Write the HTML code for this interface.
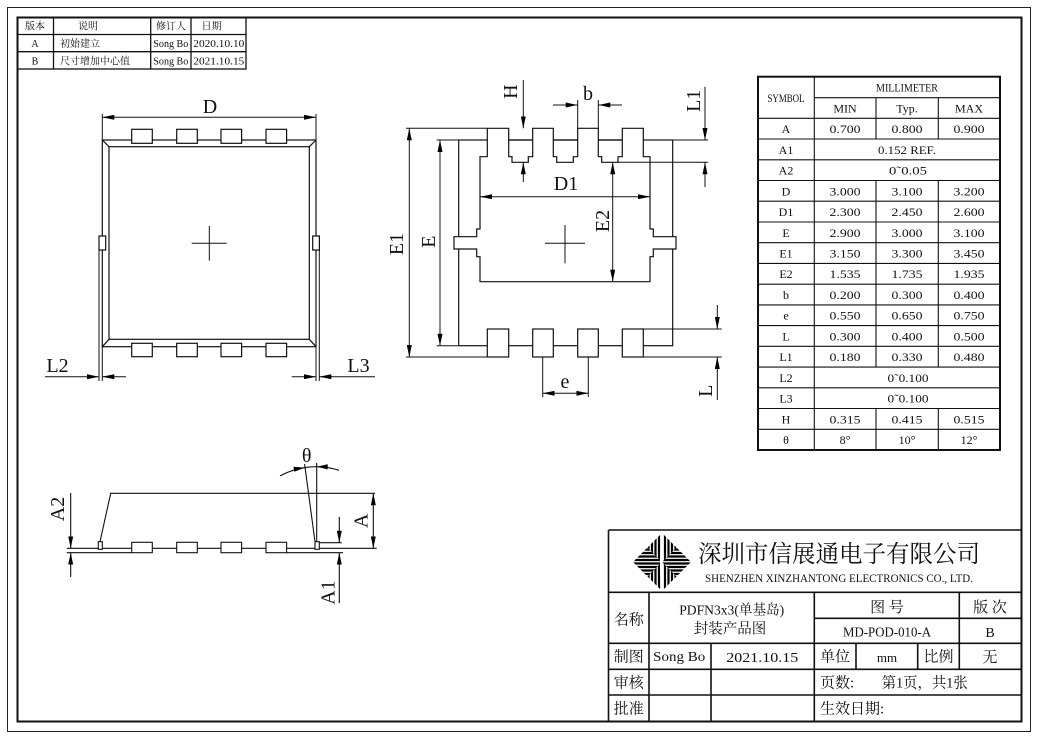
<!DOCTYPE html>
<html><head><meta charset="utf-8"><style>
html,body{margin:0;padding:0;background:#fff;}
svg{display:block;}
text{font-family:"Liberation Serif","Noto Serif CJK SC",serif;fill:#111;}
</style></head><body>
<svg width="1039" height="738" viewBox="0 0 1039 738" xmlns="http://www.w3.org/2000/svg">
<defs>
<marker id="a" viewBox="0 0 12 5" refX="12" refY="2.5" markerWidth="12" markerHeight="5" markerUnits="userSpaceOnUse" orient="auto-start-reverse"><path d="M0,0L12,2.5L0,5z" fill="#000"/></marker>
<clipPath id="lr"><path d="M633,562 L647.5,547.5 L662,562 L647.5,576.5 Z M691,562 L676.5,547.5 L662,562 L676.5,576.5 Z"/></clipPath>
<clipPath id="tb"><path d="M662,533 L676.5,547.5 L662,562 L647.5,547.5 Z M662,591 L676.5,576.5 L662,562 L647.5,576.5 Z"/></clipPath>
</defs>

<!-- page frames -->
<rect x="7.5" y="7.5" width="1023" height="724" fill="none" stroke="#222" stroke-width="1"/>
<rect x="17.5" y="17.5" width="1004" height="704" fill="none" stroke="#111" stroke-width="2"/>

<!-- revision table -->
<g stroke="#111" stroke-width="1.3" fill="none">
<rect x="17.5" y="17.5" width="228.5" height="51.5"/>
<line x1="17.5" y1="34.5" x2="246" y2="34.5"/>
<line x1="17.5" y1="51.7" x2="246" y2="51.7"/>
<line x1="53.5" y1="17.5" x2="53.5" y2="69"/>
<line x1="150.7" y1="17.5" x2="150.7" y2="69"/>
<line x1="191" y1="17.5" x2="191" y2="69"/>
</g>
<g font-size="10">
<text x="35" y="29.5" text-anchor="middle">版本</text>
<text x="88" y="29.5" text-anchor="middle">说明</text>
<text x="171" y="29.5" text-anchor="middle">修订人</text>
<text x="211.5" y="29.5" text-anchor="middle">日期</text>
<text x="35" y="47" text-anchor="middle">A</text>
<text x="60" y="47">初始建立</text>
<text x="153.3" y="47" textLength="35" lengthAdjust="spacingAndGlyphs">Song Bo</text>
<text x="193.3" y="47" textLength="51" lengthAdjust="spacingAndGlyphs">2020.10.10</text>
<text x="35" y="64.5" text-anchor="middle">B</text>
<text x="60" y="64.5">尺寸增加中心值</text>
<text x="153.3" y="64.5" textLength="35" lengthAdjust="spacingAndGlyphs">Song Bo</text>
<text x="193.3" y="64.5" textLength="51" lengthAdjust="spacingAndGlyphs">2021.10.15</text>
</g>

<!-- LEFT TOP VIEW -->
<g stroke="#111" stroke-width="1.2" fill="none">
<rect x="102.3" y="140" width="213.7" height="206.7"/>
<rect x="109" y="146.7" width="200.3" height="192.6"/>
<line x1="102.3" y1="140" x2="109" y2="146.7"/>
<line x1="316" y1="140" x2="309.3" y2="146.7"/>
<line x1="102.3" y1="346.7" x2="109" y2="339.3"/>
<line x1="316" y1="346.7" x2="309.3" y2="339.3"/>
</g>
<g stroke="#111" stroke-width="1.2" fill="#fff">
<rect x="131.7" y="129.3" width="20.6" height="14"/>
<rect x="176.7" y="129.3" width="20.6" height="14"/>
<rect x="221" y="129.3" width="20.6" height="14"/>
<rect x="266" y="129.3" width="20.6" height="14"/>
<rect x="131.7" y="343.3" width="20.6" height="13.4"/>
<rect x="176.7" y="343.3" width="20.6" height="13.4"/>
<rect x="221" y="343.3" width="20.6" height="13.4"/>
<rect x="266" y="343.3" width="20.6" height="13.4"/>
<rect x="99" y="236" width="6.7" height="14"/>
<rect x="312.7" y="236" width="6.7" height="14"/>
</g>
<g stroke="#111" stroke-width="1" fill="none">
<line x1="102.3" y1="114" x2="102.3" y2="140"/>
<line x1="316" y1="114" x2="316" y2="140"/>
<line x1="102.3" y1="117.3" x2="316" y2="117.3" marker-start="url(#a)" marker-end="url(#a)"/>
<line x1="99" y1="250" x2="99" y2="381"/>
<line x1="102.3" y1="346.7" x2="102.3" y2="381"/>
<line x1="316" y1="346.7" x2="316" y2="381"/>
<line x1="319.3" y1="250" x2="319.3" y2="381"/>
<line x1="45" y1="376.7" x2="99" y2="376.7" marker-end="url(#a)"/>
<line x1="126" y1="376.7" x2="102.3" y2="376.7" marker-end="url(#a)"/>
<line x1="291.7" y1="376.7" x2="316" y2="376.7" marker-end="url(#a)"/>
<line x1="375" y1="376.7" x2="319.3" y2="376.7" marker-end="url(#a)"/>
<line x1="191.7" y1="243.3" x2="226.7" y2="243.3"/>
<line x1="209.3" y1="226" x2="209.3" y2="260.7"/>
</g>
<g font-size="20">
<text x="210" y="113" text-anchor="middle">D</text>
<text x="57.5" y="372" text-anchor="middle">L2</text>
<text x="358.5" y="372" text-anchor="middle">L3</text>
</g>

<!-- MIDDLE BOTTOM VIEW -->
<g stroke="#111" stroke-width="1.2">
<rect x="458.7" y="140" width="214" height="205.7" fill="none"/>
<polygon fill="#fff" points="480,281.7 480,256.7 476.7,256.7 476.7,249 454,249 454,236.7 476.7,236.7 476.7,229 480,229 480,156.7 487.3,156.7 487.3,128.3 508.7,128.3 508.7,156.7 512,156.7 512,162.3 528.3,162.3 528.3,156.7 532.7,156.7 532.7,128.3 553.3,128.3 553.3,156.7 556.7,156.7 556.7,162.3 573.3,162.3 573.3,156.7 577.7,156.7 577.7,128.3 598.3,128.3 598.3,156.7 601.7,156.7 601.7,162.3 618,162.3 618,156.7 622.3,156.7 622.3,128.3 643.3,128.3 643.3,156.7 650,156.7 650,229 653.3,229 653.3,236.7 676,236.7 676,249 653.3,249 653.3,256.7 650,256.7 650,281.7"/>
<line x1="508.7" y1="140" x2="532.7" y2="140"/>
<line x1="553.3" y1="140" x2="577.7" y2="140"/>
<line x1="598.3" y1="140" x2="622.3" y2="140"/>
<rect x="487.3" y="329" width="21.4" height="28" fill="#fff"/>
<rect x="532.7" y="329" width="20.6" height="28" fill="#fff"/>
<rect x="577.7" y="329" width="20.6" height="28" fill="#fff"/>
<rect x="622.3" y="329" width="21" height="28" fill="#fff"/>
</g>
<g stroke="#111" stroke-width="1" fill="none">
<line x1="406" y1="128.3" x2="487.3" y2="128.3"/>
<line x1="406" y1="357" x2="487.3" y2="357"/>
<line x1="409.3" y1="128.3" x2="409.3" y2="357" marker-start="url(#a)" marker-end="url(#a)"/>
<line x1="436.7" y1="140" x2="458.7" y2="140"/>
<line x1="436.7" y1="345.7" x2="458.7" y2="345.7"/>
<line x1="440" y1="140" x2="440" y2="345.7" marker-start="url(#a)" marker-end="url(#a)"/>
<line x1="523.3" y1="80" x2="523.3" y2="128.3" marker-end="url(#a)"/>
<line x1="523.3" y1="182" x2="523.3" y2="162.3" marker-end="url(#a)"/>
<line x1="577.7" y1="100" x2="577.7" y2="128.3"/>
<line x1="598.3" y1="100" x2="598.3" y2="128.3"/>
<line x1="553" y1="105" x2="577.7" y2="105" marker-end="url(#a)"/>
<line x1="622" y1="105" x2="598.3" y2="105" marker-end="url(#a)"/>
<line x1="672.7" y1="140" x2="708" y2="140"/>
<line x1="618" y1="162.3" x2="708" y2="162.3"/>
<line x1="705" y1="86.7" x2="705" y2="140" marker-end="url(#a)"/>
<line x1="705" y1="187" x2="705" y2="162.3" marker-end="url(#a)"/>
<line x1="612.7" y1="162.3" x2="612.7" y2="281.7" marker-start="url(#a)" marker-end="url(#a)"/>
<line x1="480" y1="196.7" x2="650" y2="196.7" marker-start="url(#a)" marker-end="url(#a)"/>
<line x1="545" y1="243.3" x2="585" y2="243.3"/>
<line x1="565" y1="225" x2="565" y2="263.3"/>
<line x1="643.3" y1="329" x2="721.7" y2="329"/>
<line x1="643.3" y1="357" x2="721.7" y2="357"/>
<line x1="717.3" y1="305" x2="717.3" y2="329" marker-end="url(#a)"/>
<line x1="717.3" y1="400" x2="717.3" y2="357" marker-end="url(#a)"/>
<line x1="542.7" y1="357" x2="542.7" y2="397"/>
<line x1="588.3" y1="357" x2="588.3" y2="397"/>
<line x1="542.7" y1="393.3" x2="588.3" y2="393.3" marker-start="url(#a)" marker-end="url(#a)"/>
</g>
<g font-size="20">
<text transform="translate(403,244) rotate(-90)" text-anchor="middle">E1</text>
<text transform="translate(435,241.7) rotate(-90)" text-anchor="middle">E</text>
<text transform="translate(609,221) rotate(-90)" text-anchor="middle">E2</text>
<text x="566" y="190" text-anchor="middle">D1</text>
<text transform="translate(517,91.7) rotate(-90)" text-anchor="middle">H</text>
<text x="588" y="100" text-anchor="middle">b</text>
<text transform="translate(700,100.8) rotate(-90)" text-anchor="middle">L1</text>
<text transform="translate(712,390.8) rotate(-90)" text-anchor="middle">L</text>
<text x="565" y="388" text-anchor="middle">e</text>
</g>

<!-- SIDE VIEW -->
<g stroke="#111" stroke-width="1.1" fill="none">
<polyline points="100,541.7 110.7,493.3 375,493.3"/>
<line x1="304.6" y1="464" x2="315" y2="541.7"/>
<line x1="316.7" y1="463" x2="316.7" y2="541.7"/>
<path d="M280,475.9 A75,75 0 0 1 339,470.3"/>
<line x1="66.7" y1="548.3" x2="98.3" y2="548.3"/>
<line x1="102.3" y1="548.3" x2="315" y2="548.3"/>
<line x1="319.3" y1="548.3" x2="376.7" y2="548.3"/>
<line x1="66.7" y1="552.7" x2="131.7" y2="552.7"/>
<line x1="286.7" y1="552.7" x2="343" y2="552.7"/>
<line x1="319.3" y1="542.7" x2="341.7" y2="542.7"/>
<line x1="373.3" y1="493.3" x2="373.3" y2="548.3" marker-start="url(#a)" marker-end="url(#a)"/>
<line x1="339.3" y1="517" x2="339.3" y2="542.7" marker-end="url(#a)"/>
<line x1="339.3" y1="603" x2="339.3" y2="552.7" marker-end="url(#a)"/>
<line x1="70.7" y1="493" x2="70.7" y2="548.3" marker-end="url(#a)"/>
<line x1="70.7" y1="577" x2="70.7" y2="552.7" marker-end="url(#a)"/>
</g>
<g stroke="#111" stroke-width="1.1" fill="#fff">
<rect x="98.3" y="541.7" width="4" height="7.6"/>
<rect x="315" y="541.7" width="4.3" height="7.6"/>
<rect x="131.7" y="542.3" width="20.6" height="10.4"/>
<rect x="176.7" y="542.3" width="20.6" height="10.4"/>
<rect x="221" y="542.3" width="20.6" height="10.4"/>
<rect x="266" y="542.3" width="20.6" height="10.4"/>
</g>
<polygon points="304.8,467.6 294.3,471.7 293.5,466.7" fill="#000"/>
<polygon points="316.7,466.7 327.7,469.4 327.7,464.2" fill="#000"/>
<g font-size="20">
<text x="306.7" y="462" text-anchor="middle">θ</text>
<text transform="translate(64,509) rotate(-90)" text-anchor="middle">A2</text>
<text transform="translate(367.5,520.8) rotate(-90)" text-anchor="middle">A</text>
<text transform="translate(334.5,592.5) rotate(-90)" text-anchor="middle">A1</text>
</g>

<!-- DIMENSION TABLE -->
<g stroke="#111" fill="none">
<rect x="758" y="76.7" width="242" height="373.3" stroke-width="2"/>
<g stroke-width="1.1">
<line x1="814.3" y1="76.7" x2="814.3" y2="450"/>
<line x1="814.3" y1="97.7" x2="1000" y2="97.7"/>
<line x1="758" y1="118.3" x2="1000" y2="118.3"/>
<line x1="758" y1="139" x2="1000" y2="139"/>
<line x1="758" y1="159.8" x2="1000" y2="159.8"/>
<line x1="758" y1="180.5" x2="1000" y2="180.5"/>
<line x1="758" y1="201.2" x2="1000" y2="201.2"/>
<line x1="758" y1="222" x2="1000" y2="222"/>
<line x1="758" y1="242.7" x2="1000" y2="242.7"/>
<line x1="758" y1="263.4" x2="1000" y2="263.4"/>
<line x1="758" y1="284.2" x2="1000" y2="284.2"/>
<line x1="758" y1="304.9" x2="1000" y2="304.9"/>
<line x1="758" y1="325.6" x2="1000" y2="325.6"/>
<line x1="758" y1="346.3" x2="1000" y2="346.3"/>
<line x1="758" y1="367.1" x2="1000" y2="367.1"/>
<line x1="758" y1="387.8" x2="1000" y2="387.8"/>
<line x1="758" y1="408.5" x2="1000" y2="408.5"/>
<line x1="758" y1="429.3" x2="1000" y2="429.3"/>
<line x1="876" y1="97.7" x2="876" y2="139"/>
<line x1="938.3" y1="97.7" x2="938.3" y2="139"/>
<line x1="876" y1="180.5" x2="876" y2="367.1"/>
<line x1="938.3" y1="180.5" x2="938.3" y2="367.1"/>
<line x1="876" y1="408.5" x2="876" y2="450"/>
<line x1="938.3" y1="408.5" x2="938.3" y2="450"/>
</g>
</g>
<g font-size="12" text-anchor="middle">
<text x="786" y="102" textLength="37" lengthAdjust="spacingAndGlyphs">SYMBOL</text>
<text x="907" y="91.5" textLength="62" lengthAdjust="spacingAndGlyphs">MILLIMETER</text>
<text x="845" y="112.5">MIN</text>
<text x="907" y="112.5">Typ.</text>
<text x="969" y="112.5">MAX</text>
</g>
<g font-size="12" text-anchor="middle">
<text x="786" y="133">A</text><text x="845" y="133" textLength="31" lengthAdjust="spacingAndGlyphs">0.700</text><text x="907" y="133" textLength="31" lengthAdjust="spacingAndGlyphs">0.800</text><text x="969" y="133" textLength="31" lengthAdjust="spacingAndGlyphs">0.900</text>
<text x="786" y="154">A1</text><text x="907" y="154" textLength="58" lengthAdjust="spacingAndGlyphs">0.152 REF.</text>
<text x="786" y="174.5">A2</text><text x="908" y="174.5" textLength="38" lengthAdjust="spacingAndGlyphs">0˜0.05</text>
<text x="786" y="195.3">D</text><text x="845" y="195.3" textLength="31" lengthAdjust="spacingAndGlyphs">3.000</text><text x="907" y="195.3" textLength="31" lengthAdjust="spacingAndGlyphs">3.100</text><text x="969" y="195.3" textLength="31" lengthAdjust="spacingAndGlyphs">3.200</text>
<text x="786" y="216">D1</text><text x="845" y="216" textLength="31" lengthAdjust="spacingAndGlyphs">2.300</text><text x="907" y="216" textLength="31" lengthAdjust="spacingAndGlyphs">2.450</text><text x="969" y="216" textLength="31" lengthAdjust="spacingAndGlyphs">2.600</text>
<text x="786" y="236.8">E</text><text x="845" y="236.8" textLength="31" lengthAdjust="spacingAndGlyphs">2.900</text><text x="907" y="236.8" textLength="31" lengthAdjust="spacingAndGlyphs">3.000</text><text x="969" y="236.8" textLength="31" lengthAdjust="spacingAndGlyphs">3.100</text>
<text x="786" y="257.5">E1</text><text x="845" y="257.5" textLength="31" lengthAdjust="spacingAndGlyphs">3.150</text><text x="907" y="257.5" textLength="31" lengthAdjust="spacingAndGlyphs">3.300</text><text x="969" y="257.5" textLength="31" lengthAdjust="spacingAndGlyphs">3.450</text>
<text x="786" y="278.2">E2</text><text x="845" y="278.2" textLength="31" lengthAdjust="spacingAndGlyphs">1.535</text><text x="907" y="278.2" textLength="31" lengthAdjust="spacingAndGlyphs">1.735</text><text x="969" y="278.2" textLength="31" lengthAdjust="spacingAndGlyphs">1.935</text>
<text x="786" y="299">b</text><text x="845" y="299" textLength="31" lengthAdjust="spacingAndGlyphs">0.200</text><text x="907" y="299" textLength="31" lengthAdjust="spacingAndGlyphs">0.300</text><text x="969" y="299" textLength="31" lengthAdjust="spacingAndGlyphs">0.400</text>
<text x="786" y="319.7">e</text><text x="845" y="319.7" textLength="31" lengthAdjust="spacingAndGlyphs">0.550</text><text x="907" y="319.7" textLength="31" lengthAdjust="spacingAndGlyphs">0.650</text><text x="969" y="319.7" textLength="31" lengthAdjust="spacingAndGlyphs">0.750</text>
<text x="786" y="340.4">L</text><text x="845" y="340.4" textLength="31" lengthAdjust="spacingAndGlyphs">0.300</text><text x="907" y="340.4" textLength="31" lengthAdjust="spacingAndGlyphs">0.400</text><text x="969" y="340.4" textLength="31" lengthAdjust="spacingAndGlyphs">0.500</text>
<text x="786" y="361.1">L1</text><text x="845" y="361.1" textLength="31" lengthAdjust="spacingAndGlyphs">0.180</text><text x="907" y="361.1" textLength="31" lengthAdjust="spacingAndGlyphs">0.330</text><text x="969" y="361.1" textLength="31" lengthAdjust="spacingAndGlyphs">0.480</text>
<text x="786" y="381.9">L2</text><text x="908" y="381.9" textLength="41" lengthAdjust="spacingAndGlyphs">0˜0.100</text>
<text x="786" y="402.6">L3</text><text x="908" y="402.6" textLength="41" lengthAdjust="spacingAndGlyphs">0˜0.100</text>
<text x="786" y="423.3">H</text><text x="845" y="423.3" textLength="31" lengthAdjust="spacingAndGlyphs">0.315</text><text x="907" y="423.3" textLength="31" lengthAdjust="spacingAndGlyphs">0.415</text><text x="969" y="423.3" textLength="31" lengthAdjust="spacingAndGlyphs">0.515</text>
<text x="786" y="444">θ</text><text x="845" y="444">8°</text><text x="907" y="444">10°</text><text x="969" y="444">12°</text>
</g>

<!-- TITLE BLOCK -->
<g stroke="#111" stroke-width="1.6" fill="none">
<line x1="608.5" y1="530" x2="1021.7" y2="530"/>
<line x1="608.5" y1="530" x2="608.5" y2="721.7"/>
<line x1="608.5" y1="592.3" x2="1021.7" y2="592.3"/>
<line x1="814.3" y1="618.3" x2="1021.7" y2="618.3"/>
<line x1="608.5" y1="643.3" x2="1021.7" y2="643.3"/>
<line x1="608.5" y1="669.3" x2="1021.7" y2="669.3"/>
<line x1="608.5" y1="695" x2="1021.7" y2="695"/>
<line x1="649" y1="592.3" x2="649" y2="721.7"/>
<line x1="711" y1="643.3" x2="711" y2="721.7"/>
<line x1="814.3" y1="592.3" x2="814.3" y2="721.7"/>
<line x1="856" y1="643.3" x2="856" y2="669.3"/>
<line x1="917.7" y1="643.3" x2="917.7" y2="669.3"/>
<line x1="959.3" y1="592.3" x2="959.3" y2="669.3"/>
</g>
<!-- logo -->
<g clip-path="url(#lr)" stroke="#000" stroke-width="2.2">
<line x1="630" y1="546" x2="694" y2="546"/><line x1="630" y1="549.5" x2="694" y2="549.5"/><line x1="630" y1="553" x2="694" y2="553"/><line x1="630" y1="556.5" x2="694" y2="556.5"/><line x1="630" y1="560" x2="694" y2="560"/><line x1="630" y1="563.5" x2="694" y2="563.5"/><line x1="630" y1="567" x2="694" y2="567"/><line x1="630" y1="570.5" x2="694" y2="570.5"/><line x1="630" y1="574" x2="694" y2="574"/><line x1="630" y1="577.5" x2="694" y2="577.5"/>
</g>
<g clip-path="url(#tb)" stroke="#000" stroke-width="2.2">
<line x1="648.5" y1="530" x2="648.5" y2="594"/><line x1="652" y1="530" x2="652" y2="594"/><line x1="655.5" y1="530" x2="655.5" y2="594"/><line x1="659" y1="530" x2="659" y2="594"/><line x1="665" y1="530" x2="665" y2="594"/><line x1="668.5" y1="530" x2="668.5" y2="594"/><line x1="672" y1="530" x2="672" y2="594"/><line x1="675.5" y1="530" x2="675.5" y2="594"/>
</g>
<path d="M662,536 Q659.5,562 662,588" stroke="#fff" stroke-width="1.6" fill="none"/>

<text x="698" y="562" font-size="24" textLength="282" lengthAdjust="spacingAndGlyphs">深圳市信展通电子有限公司</text>
<text x="705" y="582" font-size="12" textLength="268" lengthAdjust="spacingAndGlyphs">SHENZHEN XINZHANTONG ELECTRONICS CO., LTD.</text>

<g font-size="15" text-anchor="middle">
<text x="628.7" y="624.5">名称</text>
<text x="731.7" y="614.5" font-size="14" textLength="105" lengthAdjust="spacingAndGlyphs">PDFN3x3(单基岛)</text>
<text x="730" y="633.5" font-size="14.5">封装产品图</text>
<text x="887" y="612">图 号</text>
<text x="990" y="612">版 次</text>
<text x="887" y="636.5" font-size="14" textLength="88" lengthAdjust="spacingAndGlyphs">MD-POD-010-A</text>
<text x="990" y="637" font-size="14">B</text>
<text x="628.7" y="661.5">制图</text>
<text x="679.2" y="661" font-size="14" textLength="52" lengthAdjust="spacingAndGlyphs">Song Bo</text>
<text x="762.3" y="662" font-size="14" textLength="72" lengthAdjust="spacingAndGlyphs">2021.10.15</text>
<text x="835" y="661.5">单位</text>
<text x="887" y="662" font-size="13">mm</text>
<text x="938.5" y="661.5">比例</text>
<text x="990" y="662">无</text>
<text x="628.7" y="687.5">审核</text>
<text x="628.7" y="713.5">批准</text>
</g>
<g font-size="15">
<text x="820" y="687.5">页数:</text>
<text x="881.7" y="687.5" textLength="86" lengthAdjust="spacingAndGlyphs">第1页，共1张</text>
<text x="820" y="713.5">生效日期:</text>
</g>
</svg>
</body></html>
